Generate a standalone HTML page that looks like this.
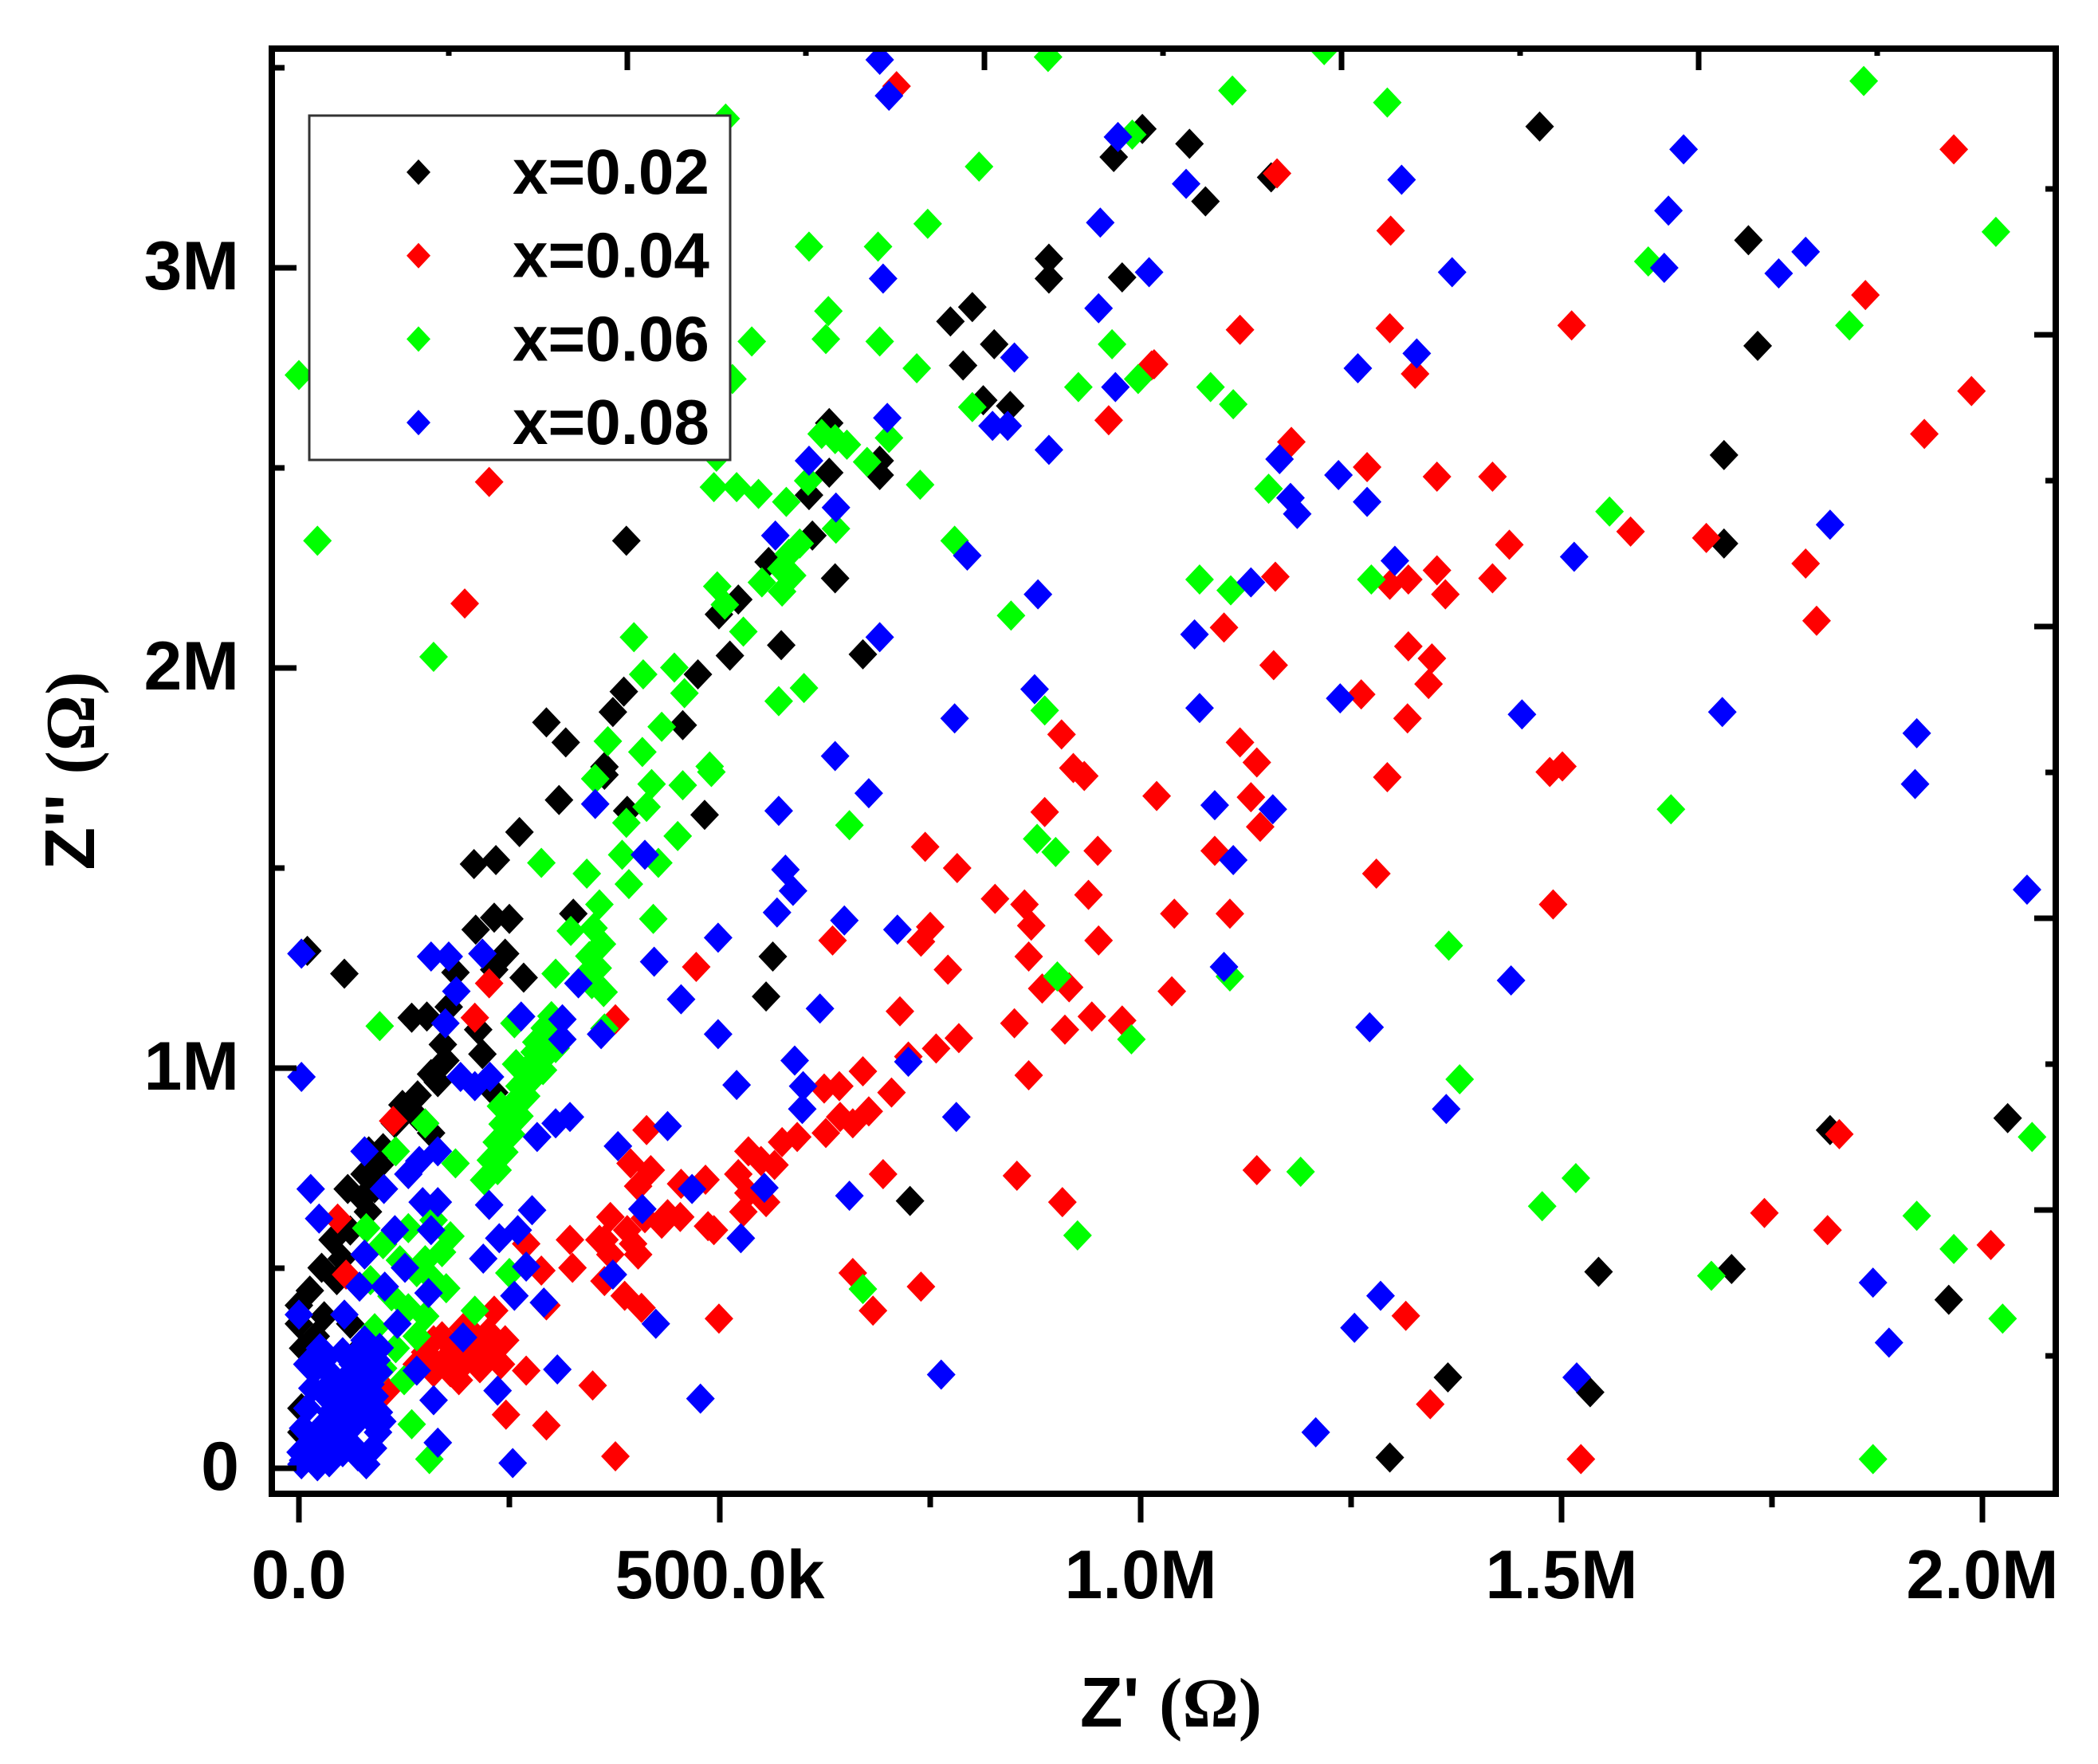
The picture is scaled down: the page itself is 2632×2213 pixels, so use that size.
<!DOCTYPE html>
<html><head><meta charset="utf-8"><style>
html,body{margin:0;padding:0;background:#fff;}
svg{display:block;}
text{font-family:"Liberation Sans",Arial,sans-serif;font-weight:bold;fill:#000;}
</style></head><body>
<svg id="chart" xmlns="http://www.w3.org/2000/svg" width="2632" height="2213" viewBox="0 0 2632 2213">
<defs><clipPath id="plotclip"><rect x="341" y="61" width="2238" height="1813"/></clipPath></defs>
<rect x="0" y="0" width="2632" height="2213" fill="#fff"/>
<g id="points" clip-path="url(#plotclip)"></g>
<rect x="341" y="61" width="2238" height="1813" fill="none" stroke="#000" stroke-width="8"/>
<g id="ticks"></g>
<g id="labels"></g>
<text x="1469" y="2166" text-anchor="middle" font-size="88">Z' <tspan font-family="Liberation Serif, serif" font-weight="bold">(Ω)</tspan></text>
<text transform="translate(118,967) rotate(-90)" text-anchor="middle" font-size="88">Z'' <tspan font-family="Liberation Serif, serif" font-weight="bold">(Ω)</tspan></text>
<g>
<rect x="388" y="145" width="528" height="432" fill="#fff" stroke="#333" stroke-width="3"/>
<g id="legend"></g>
</g>
</svg>
<script>
const xTicks=[0,500,1000,1500,2000];
const xTickLabels=["0.0","500.0k","1.0M","1.5M","2.0M"];
const yTicks=[0,1000,2000,3000];
const yTickLabels=["0","1M","2M","3M"];
const seriesNames=["x=0.02","x=0.04","x=0.06","x=0.08"];
const seriesColors=["#000000","#ff0000","#00ff00","#0000ff"];
const black=[[1474,3353],[1002,3347],[1058,3310],[968,3277],[1077,3166],[1155,3226],[1722,3069],[1733,2805],[1693,2532],[1693,2311],[2030,875],[1960,421],[1702,498],[1544,491],[1534,190],[1365,227],[1296,27],[1819,845],
[891,3023],[891,2973],[978,2976],[800,2902],[774,2866],[826,2809],[789,2756],[813,2669],[845,2655],[630,2612],[690,2518],[630,2488],[690,2482],[606,2432],[610,2331],[558,2265],[637,2224],[389,2318],[522,2171],[499,2134],[573,2057],[512,2031],[670,2034],[474,1984],[386,1941],[373,1890],[294,1864],[317,1814],[456,1857],[363,1753],
[363,1733],[309,1670],[390,1643],[482,1633],[262,1590],[208,1510],[234,1520],[232,1376],[250,1373],[210,1346],[326,1386],[245,1286],[186,1239],[232,1246],[267,1226],[10,1293],[54,1236],[134,1126],[152,1129],[178,1153],[213,1096],[171,1059],[174,1019],[218,1035],[157,985],[165,965],[232,939],[141,932],[123,908],[114,862],[157,838],[83,792],[96,758],[78,735],[58,698],[75,675],[82,641],[61,594],[40,571],[51,524],[27,501],[13,444],[0,407],[0,361],[5,300],[69,291],[61,361],[555,1179],[563,1279],[726,668],[3,150],[3,90],[5,40],[20,330],[30,380],[45,470],[90,700],[100,800],[140,880]];
const red=[[710,3454],[226,2465],[197,2161],[1013,2756],[962,2619],[906,1834],[920,1750],
[1162,3236],[1966,3296],[1297,3093],[1118,2845],[1296,2849],[1512,2856],[1861,2932],[1987,2692],[1016,2759],[1326,2735],[1179,2565],[1269,2502],[1352,2478],[1418,2478],[1931,2585],[1438,2308],[1582,2341],[1672,2325],[1790,2261],[1803,2118],[1160,2228],[1318,2221],[1352,2244],[1362,2184],[1418,2224],[1296,2208],[1099,2101],[1158,2007],[1318,2054],[1346,2024],[1342,1960],[1262,1934],[1317,1874],[1118,1814],[1138,1764],[1501,1754],
[1293,1727],[1486,1740],[1131,1677],[1142,1603],[1088,1543],[1280,1486],[1040,1386],[1106,1386],[1490,1409],[1037,1192],[1138,745],[1741,638],[1816,595],[1830,835],[2010,558],[1315,381],[1344,160],[1523,23],
[933,1730],[1019,1680],[886,1640],[744,1553],[782,1500],[949,1543],[827,1423],[862,1409],[870,1356],[938,1433],[750,1353],[739,1316],[634,1319],[950,1319],[867,1279],[771,1246],[883,1199],[915,1202],[714,1142],[850,1112],[910,1096],[942,1129],[978,1119],[784,1075],[757,1049],[724,1029],[867,982],[376,1122],[472,1253],[670,992],[642,955],[624,949],[704,939],[677,892],[658,862],[643,878],[626,838],[592,828],[574,815],[565,758],[534,792],[549,768],[522,735],[555,665],[534,688],[528,641],[486,605],[493,595],[454,711],[483,721],[413,845],[394,762],[418,745],[403,705],[438,635],[431,611],[411,625],[453,628],[370,628],[390,595],[397,561],[363,571],[403,534],[370,534],[357,571],[322,571],[325,501],[288,494],[270,561],[363,468],[387,431],[407,401],[232,394],[294,407],[499,374],[658,488],[739,454],[682,394],[694,735],[853,731],[907,665],[349,207],[270,244],[246,134],[294,107],[376,30],
[170,330],[185,300],[200,270],[215,250],[160,240],[190,220],[230,300],[240,260],[210,330],[175,275],[195,350],[225,340],[150,290],[140,260],[205,290],[245,320],[180,240],[220,280],[160,320],[200,310],
[226,1212],[209,1126],[112,868],[56,484],[46,624],[104,194],[192,281]];
const green=[[890,3527],[507,3373],[0,2732],[808,3253],[747,3110],[606,3053],[688,3053],[990,3333],[629,2892],[538,2816],[626,2822],[690,2816],[734,2749],[515,2722],[800,2652],[926,2702],[966,2809],[997,2722],[621,2585],[637,2572],[651,2558],[701,2575],[675,2515],[738,2458],[605,2468],[493,2452],[520,2452],[546,2435],[579,2415],[496,2528],[638,2348],[779,2318],[595,2311],[582,2285],[573,2248],[586,2231],[574,2191],[550,2214],[497,2204],[506,2158],[528,2091],[398,2077],[446,2001],[409,1984],[458,1937],[570,1917],[600,1950],[431,1853],[367,1817],[408,1790],[488,1754],[160,2028],[22,2318],[846,2131],[886,1894],
[1218,3544],[1109,3443],[1293,3413],[1859,3467],[2016,3090],[1603,3016],[1842,2856],[1083,2702],[1110,2659],[1152,2448],[1557,2391],[1070,2221],[1107,2194],[1274,2221],
[1630,1647],[1366,1306],[1106,1229],[1379,972],[1190,741],[1517,725],[1477,655],[1678,481],[1922,631],[1966,548],[2024,374],[2059,828],[1870,23],
[352,1723],[419,1710],[456,1707],[490,1740],[413,1653],[389,1613],[450,1580],[654,1607],[384,1533],[427,1513],[288,1513],[342,1486],[392,1460],[357,1409],[421,1373],[323,1343],[350,1350],[360,1310],[345,1280],[355,1250],[348,1210],[362,1190],[340,1230],[305,1236],[363,1099],[256,1112],[96,1105],[901,1229],[989,1072],[877,1573],[899,1540],[925,582],[670,448],[250,488],[209,394],[134,110],[155,23],[150,862],[115,792],[186,762],
[300,1130],[292,1100],[296,1075],[280,1040],[288,1020],[272,1000],[278,975],[262,955],[270,930],[252,905],[262,880],[242,860],[252,835],[235,815],[244,790],[228,770],[236,745],[220,720],[282,1065],[258,1010],[266,960],[240,905],[305,1050],[290,995],
[80,600],[100,560],[120,520],[140,490],[160,470],[110,430],[130,400],[150,380],[170,540],[90,350],[115,300],[140,330],[160,620],[180,580],[100,250],[125,220],[150,520],[175,450],[85,470],[130,600]];
const blue=[[690,3520],[701,3430],[973,3327],[952,3113],[1010,2989],[694,2973],[950,2899],[850,2776],[970,2702],[824,2605],[842,2605],[891,2545],[699,2625],[606,2518],[638,2401],[566,2331],[794,2281],[878,2184],[690,2077],[874,1947],[779,1874],[637,1780],
[1054,3210],[1310,3220],[1645,3296],[1627,3143],[1790,3040],[1758,2986],[1622,3000],[1370,2989],[1328,2786],[1258,2749],[1165,2522],[1235,2482],[1178,2425],[1186,2385],[1269,2415],[1302,2268],[1515,2278],[1819,2358],[1131,2214],[1064,2084],[1070,1900],[1237,1924],[1453,1884],[1691,1890],[1922,1837],
[1920,1710],[2053,1446],[1088,1657],[1157,1647],[1110,1520],[1099,1253],[1440,1219],[1272,1102],[1363,898],[1285,431],[1254,351],[1518,227],[1208,90],[1870,464],[1889,314],
[677,1687],[570,1643],[352,1660],[411,1533],[578,1496],[587,1443],[568,1389],[648,1369],[711,1346],[498,1326],[422,1266],[454,1172],[619,1149],[498,1085],[589,1019],[520,958],[599,955],[598,898],[724,1016],[781,878],[438,855],[379,805],[322,878],[305,862],[283,828],[553,701],[467,698],[654,681],[408,648],[525,575],[373,484],[424,361],[763,234],[477,174],[307,247],[254,13],[3,1286],[3,978],[14,698],[24,624],[157,1279],[178,1279],[218,1286],[187,1192],[174,1112],[264,1129],[313,1122],[313,1072],[192,978],[209,955],[227,978],[332,1212],[359,1085],[78,792],[143,768],[165,792],[130,735],[101,698],[147,665],[165,665],[226,658],[277,645],[114,595],[157,595],[238,575],[260,595],[219,524],[270,504],[256,431],[291,414],[126,501],[102,454],[154,438],[78,534],[72,454],[54,384],[117,361],[140,244],[96,301],[195,327],[236,194],[160,170],[99,117],[72,37],[165,64],[0,384],
[5,20],[14,50],[22,80],[30,110],[38,140],[45,170],[52,200],[58,230],[64,260],[70,290],[78,320],[86,300],[92,270],[95,240],[85,210],[72,180],[60,150],[44,120],[28,90],[12,60],[5,100],[10,150],[16,200],[20,250],[25,300],[32,40],[42,70],[50,100],[62,60],[70,30],[80,10],[88,50],[94,90],[82,130],[66,110],[52,40],[36,15],[22,5],[3,10],[40,230],[34,280],[52,290],[74,240],[90,180],[95,140],[60,200],[2,40],[10,260],[28,190],[45,60]];
const allSeries=[black,red,green,blue];
const seriesKeys=["x-0-02","x-0-04","x-0-06","x-0-08"];

const NS="http://www.w3.org/2000/svg";
function xScale(v){return 375+v*1.056;}
function yScale(v){return 1842-v*0.502;}
function diamond(cx,cy,hw,hh){return `M${cx},${cy-hh}L${cx+hw},${cy}L${cx},${cy+hh}L${cx-hw},${cy}Z`;}

const pg=document.getElementById('points');
allSeries.forEach((data,si)=>{
  const g=document.createElementNS(NS,'g');
  
  
  data.forEach(d=>{
    const p=document.createElementNS(NS,'path');
    p.setAttribute('d',diamond(xScale(d[0]),yScale(d[1]),18,19));
    p.setAttribute('fill',seriesColors[si]);
    
    
    g.appendChild(p);
  });
  pg.appendChild(g);
});

const tg=document.getElementById('ticks');
function line(x1,y1,x2,y2,name){
  const l=document.createElementNS(NS,'line');
  l.setAttribute('x1',x1);l.setAttribute('y1',y1);l.setAttribute('x2',x2);l.setAttribute('y2',y2);
  l.setAttribute('stroke','#000');l.setAttribute('stroke-width','7');
  
  
  tg.appendChild(l);
}
for(let v=0;v<=2000;v+=250){const x=xScale(v);const major=v%500===0;line(x,1878,x,major?1910:1891,major?'x-major-tick':'x-minor-tick');}
for(let v=0;v<=3500;v+=500){const y=yScale(v);const major=v%1000===0;line(337,y,major?372:357,y,major?'y-major-tick':'y-minor-tick');}
for(let i=0;i<10;i++){const x=563+i*224;if(x>2570)break;const major=i%2===1;line(x,57,x,major?88:70,'top-tick');}
for(let i=0;i<9;i++){const y=237+i*183;if(y>1870)break;const major=i%2===1;line(2583,y,major?2552:2566,y,'right-tick');}

const lg=document.getElementById('labels');
xTicks.forEach((v,i)=>{
  const t=document.createElementNS(NS,'text');
  t.setAttribute('x',xScale(v));t.setAttribute('y',2005);
  t.setAttribute('text-anchor','middle');t.setAttribute('font-size','86');
  t.textContent=xTickLabels[i];
  
  
  lg.appendChild(t);
});
yTicks.forEach((v,i)=>{
  const t=document.createElementNS(NS,'text');
  t.setAttribute('x',300);t.setAttribute('y',yScale(v)+27);
  t.setAttribute('text-anchor','end');t.setAttribute('font-size','86');
  t.textContent=yTickLabels[i];
  
  
  lg.appendChild(t);
});

const leg=document.getElementById('legend');
seriesNames.forEach((n,i)=>{
  const by=243+i*104.7;
  const p=document.createElementNS(NS,'path');
  p.setAttribute('d',diamond(525,by-27,15,16));
  p.setAttribute('fill',seriesColors[i]);
  
  
  leg.appendChild(p);
  const t=document.createElementNS(NS,'text');
  t.setAttribute('x',643);t.setAttribute('y',by);t.setAttribute('font-size','80');
  t.textContent=n;
  
  
  leg.appendChild(t);
});
</script>
</body></html>
